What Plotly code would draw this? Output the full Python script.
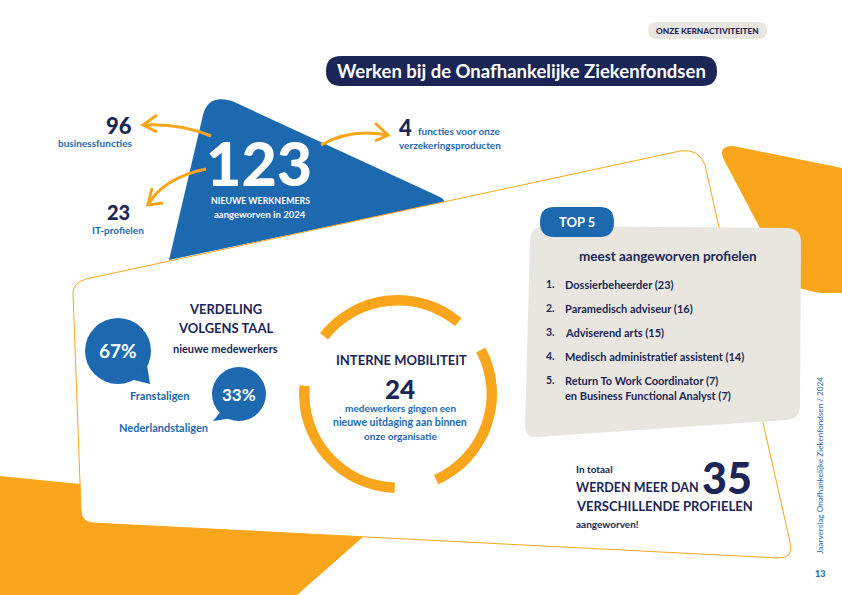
import plotly.graph_objects as go

# numbers on the page
total_hires = 123
business_functions = 96
it_profiles = 23
product_functions = 4
language_labels = ["Franstaligen", "Nederlandstaligen"]
language_shares = [67, 33]
internal_moves = 24
distinct_profiles = 35

top5_names = ["Dossierbeheerder", "Paramedisch adviseur", "Adviserend arts",
              "Medisch administratief assistent", "Return To Work Coordinator"]
top5_counts = [23, 16, 15, 14, 7]
top5_extra_name = "en Business Functional Analyst"
top5_extra_count = 7

# ring around "interne mobiliteit": arc, gap, arc, gap... in degrees
ring_values = [92, 22, 94, 26, 93, 33]

NAVY = "#1b2656"
BLUE = "#1c69b0"
ORANGE = "#faa61c"
GREY = "#e8e6df"
FONT = "Lato"

W, H = 842, 595
fig = go.Figure()

# invisible trace so the pixel axes exist
fig.add_trace(go.Scatter(x=[0, W], y=[0, H], mode="markers", marker=dict(opacity=0),
                         hoverinfo="skip", showlegend=False))

# ring
cx, cy, r = 398, 394, 99
fig.add_trace(go.Pie(values=ring_values, hole=0.895, sort=False, direction="clockwise",
                     rotation=308, textinfo="none", hoverinfo="skip", showlegend=False,
                     marker=dict(colors=[ORANGE, "rgba(0,0,0,0)"] * 3, line=dict(width=0)),
                     domain=dict(x=[(cx - r) / W, (cx + r) / W],
                                 y=[1 - (cy + r) / H, 1 - (cy - r) / H])))


def shape(path, fill=None, line=None, width=0):
    fig.add_shape(type="path", path=path, xref="x", yref="y", layer="below",
                  fillcolor=fill if fill else "rgba(0,0,0,0)",
                  line=dict(color=line if line else "rgba(0,0,0,0)", width=width))


def text(x, y, s, size, color=NAVY, anchor="center", weight=700, angle=0):
    fig.add_annotation(x=x, y=y, xref="x", yref="y", text=s, showarrow=False, xanchor=anchor,
                       yanchor="middle", textangle=angle, borderpad=0,
                       font=dict(family=FONT, size=size, color=color, weight=weight))


# orange background blocks
shape("M0,476 L80,484 L363,537 L297,595 L0,595 Z", fill=ORANGE)
shape("M724,160 Q717,146 733,146 L842,168 L842,293 L823,293 Q810,292 790,285 Z", fill=ORANGE)

# blue triangle
shape("M169,260 L203,115 Q208,94 232,101 L440,197 Q444,199 445,202 Z", fill=BLUE)

# white card with thin outline
shape("M73,293 Q73,283 86,279 L680,151 Q699,148 705,165 L790,542 Q794,559 778,558 "
      "L93,523 Q81,522 81,510 Z", fill="white", line=ORANGE, width=1)

# grey box + pills
shape("M545,226 L788,228 Q801,229 801,242 L800,405 Q800,419 787,420 L537,437 Q525,438 525,426 "
      "L530,240 Q531,226 545,226 Z", fill=GREY)
shape("M554,207 L600,207 Q614,207 614,222 Q614,237 600,237 L554,237 Q540,237 540,222 Q540,207 554,207 Z",
      fill=BLUE)
shape("M657,22 L758,22 Q767,22 767,30.5 Q767,39 758,39 L657,39 Q648,39 648,30.5 Q648,22 657,22 Z", fill=GREY)
shape("M341,56 L702,56 Q717,56 717,71 Q717,86 702,86 L341,86 Q326,86 326,71 Q326,56 341,56 Z", fill=NAVY)

# speech bubbles
fig.add_shape(type="circle", xref="x", yref="y", layer="below", x0=85, x1=151, y0=318, y1=384,
              fillcolor=BLUE, line=dict(width=0))
shape("M140,375 L147,365 L150,384 L130,379 Z", fill=BLUE)
fig.add_shape(type="circle", xref="x", yref="y", layer="below", x0=212, x1=266, y0=367, y1=421,
              fillcolor=BLUE, line=dict(width=0))
shape("M222,410 L233,418 L213,421 Z", fill=BLUE)

# arrows
for p in ["M211,136 Q180,123 143,125", "M157,115 L143,125 L157,132",
          "M206,169 Q163,178 148,205", "M152,188 L148,205 L163,203",
          "M321,145 Q350,128 388,135", "M375,123 L388,135 L375,141"]:
    shape(p, line=ORANGE, width=3)

# header
text(707.5, 30.5, "ONZE KERNACTIVITEITEN", 8.3, weight=900)
text(521, 71, "Werken bij de Onafhankelijke Ziekenfondsen", 18.5, color="white")

# triangle figures
text(259, 162, str(total_hires), 61, color="white", weight=900)
text(260, 200, "NIEUWE WERKNEMERS", 8.8, color="white")
text(260, 214, "aangeworven in 2024", 9.5, color="white")

text(133, 125, str(business_functions), 22, anchor="right", weight=900)
text(133, 143, "businessfuncties", 10, color=BLUE, anchor="right")
text(118, 212, str(it_profiles), 20, weight=900)
text(118, 230, "IT-profielen", 10, color=BLUE)
text(398, 127, str(product_functions), 22, anchor="left", weight=900)
text(417, 131, "functies voor onze", 10, color=BLUE, anchor="left")
text(398, 145, "verzekeringsproducten", 10, color=BLUE, anchor="left")

# language split
text(225, 309, "VERDELING", 13)
text(225, 328, "VOLGENS TAAL", 13)
text(225, 348, "nieuwe medewerkers", 11)
text(118, 350, f"{language_shares[0]}%", 19, color="white")
text(239, 394, f"{language_shares[1]}%", 17, color="white")
text(159, 395, language_labels[0], 11, color=BLUE)
text(163, 427, language_labels[1], 11, color=BLUE)

# mobility
text(401, 360, "INTERNE MOBILITEIT", 13)
text(400, 389, str(internal_moves), 26, weight=900)
text(400, 408, "medewerkers gingen een", 10, color=BLUE)
text(400, 422, "nieuwe uitdaging aan binnen", 10.5, color=BLUE)
text(400, 436, "onze organisatie", 10, color=BLUE)

# top 5
text(577, 222, "TOP 5", 13, color="white")
text(668, 256, "meest aangeworven profielen", 13.5)
top5_y = [284, 308, 332, 356, 380]
for i in range(len(top5_names)):
    text(545, top5_y[i], f"{i + 1}.", 10.5, anchor="left")
    text(564, top5_y[i], f"{top5_names[i]} ({top5_counts[i]})", 11, anchor="left")
text(564, 395, f"{top5_extra_name} ({top5_extra_count})", 11, anchor="left")

# total profiles
text(575, 469, "In totaal", 10, anchor="left")
text(575, 487, "WERDEN MEER DAN", 12.5, anchor="left")
text(727, 477, str(distinct_profiles), 43, weight=900)
text(575, 506, "VERSCHILLENDE PROFIELEN", 13, anchor="left")
text(575, 524, "aangeworven!", 10, anchor="left")

# side note and page number
text(820, 466, "Jaarverslag Onafhankelijke Ziekenfondsen / 2024", 8.2, color=BLUE, weight=400, angle=-90)
text(820, 573, "13", 9, color=BLUE, weight=900)

fig.update_xaxes(range=[0, W], visible=False, fixedrange=True)
fig.update_yaxes(range=[H, 0], visible=False, fixedrange=True)
fig.update_layout(width=W, height=H, margin=dict(l=0, r=0, t=0, b=0),
                  paper_bgcolor="white", plot_bgcolor="white", showlegend=False)

# the page's default 8px body margin would shift the whole picture
fig.write_html("out.html", config=dict(displayModeBar=False),
               post_script="document.body.style.margin='0';document.body.style.overflow='hidden';")
